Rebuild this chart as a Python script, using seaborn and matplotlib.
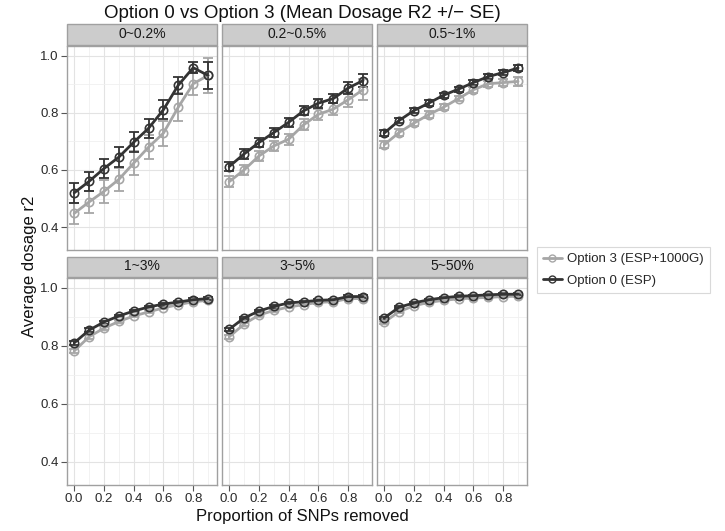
import matplotlib
matplotlib.use("Agg")
import matplotlib.pyplot as plt
from matplotlib.lines import Line2D
from matplotlib.patches import Rectangle
import numpy as np
import pandas as pd
import seaborn as sns

# x positions (proportion of SNPs removed)
x_vals = [0.0, 0.1, 0.2, 0.3, 0.4, 0.5, 0.6, 0.7, 0.8, 0.9]
panels = ["0~0.2%", "0.2~0.5%", "0.5~1%", "1~3%", "3~5%", "5~50%"]
options = ["Option 3 (ESP+1000G)", "Option 0 (ESP)"]

# mean dosage r2, one row per panel
opt0_mean = [
    [0.520, 0.560, 0.605, 0.645, 0.697, 0.746, 0.811, 0.897, 0.958, 0.931],
    [0.612, 0.656, 0.696, 0.731, 0.767, 0.807, 0.834, 0.850, 0.887, 0.913],
    [0.729, 0.773, 0.808, 0.834, 0.862, 0.883, 0.906, 0.927, 0.941, 0.957],
    [0.810, 0.854, 0.882, 0.903, 0.920, 0.934, 0.944, 0.951, 0.959, 0.963],
    [0.857, 0.896, 0.920, 0.936, 0.948, 0.952, 0.957, 0.959, 0.970, 0.970],
    [0.896, 0.933, 0.948, 0.959, 0.966, 0.971, 0.973, 0.976, 0.978, 0.978],
]
opt3_mean = [
    [0.448, 0.488, 0.525, 0.567, 0.624, 0.680, 0.729, 0.820, 0.902, 0.931],
    [0.559, 0.600, 0.649, 0.684, 0.708, 0.758, 0.795, 0.813, 0.846, 0.881],
    [0.688, 0.731, 0.764, 0.794, 0.820, 0.850, 0.881, 0.902, 0.906, 0.910],
    [0.782, 0.831, 0.861, 0.884, 0.903, 0.917, 0.931, 0.942, 0.952, 0.957],
    [0.831, 0.875, 0.906, 0.922, 0.934, 0.942, 0.950, 0.952, 0.963, 0.963],
    [0.881, 0.918, 0.938, 0.950, 0.957, 0.962, 0.965, 0.967, 0.970, 0.971],
]
# standard errors
opt0_se = [
    [0.034, 0.034, 0.034, 0.034, 0.035, 0.034, 0.034, 0.030, 0.020, 0.047],
    [0.017, 0.017, 0.016, 0.016, 0.016, 0.016, 0.016, 0.017, 0.020, 0.024],
    [0.011, 0.010, 0.010, 0.010, 0.009, 0.009, 0.009, 0.009, 0.009, 0.010],
    [0.006, 0.006, 0.005, 0.005, 0.005, 0.005, 0.005, 0.005, 0.005, 0.005],
    [0.006, 0.005, 0.005, 0.004, 0.004, 0.004, 0.004, 0.004, 0.004, 0.004],
    [0.004, 0.004, 0.004, 0.003, 0.003, 0.003, 0.003, 0.003, 0.003, 0.003],
]
opt3_se = [
    [0.038, 0.039, 0.039, 0.040, 0.042, 0.042, 0.044, 0.048, 0.038, 0.060],
    [0.019, 0.019, 0.019, 0.019, 0.019, 0.019, 0.020, 0.022, 0.025, 0.036],
    [0.012, 0.011, 0.011, 0.011, 0.010, 0.010, 0.010, 0.010, 0.011, 0.015],
    [0.007, 0.006, 0.006, 0.005, 0.005, 0.005, 0.005, 0.005, 0.005, 0.005],
    [0.006, 0.005, 0.005, 0.005, 0.004, 0.004, 0.004, 0.004, 0.004, 0.004],
    [0.005, 0.004, 0.004, 0.004, 0.003, 0.003, 0.003, 0.003, 0.003, 0.003],
]

COLORS = {options[0]: "#a6a6a6", options[1]: "#333333"}

rows = []
for i, panel in enumerate(panels):
    for opt, means, ses in [(options[0], opt3_mean, opt3_se), (options[1], opt0_mean, opt0_se)]:
        for x, m, s in zip(x_vals, means[i], ses[i]):
            rows.append({"panel": panel, "option": opt, "x": x, "mean": m, "se": s})
df = pd.DataFrame(rows)

sns.set_theme(style="white")
plt.rcParams["font.family"] = ["Liberation Sans", "DejaVu Sans"]


def draw(data, color=None, label=None, **kws):
    ax = plt.gca()
    sns.lineplot(data=data, x="x", y="mean", color=color, lw=2.0, ax=ax,
                 marker="o", markersize=6, markerfacecolor="none",
                 markeredgecolor=color, markeredgewidth=1.2, errorbar=None,
                 legend=False, zorder=3)
    ax.errorbar(data["x"], data["mean"], yerr=data["se"], fmt="none",
                ecolor=color, elinewidth=1.3, capsize=3.5, capthick=1.3, zorder=2)


g = sns.FacetGrid(df, col="panel", col_wrap=3, col_order=panels,
                  hue="option", hue_order=options, palette=COLORS,
                  height=2.0, aspect=1.0, sharex=True, sharey=True)
g.map_dataframe(draw)

fig = g.figure
fig.set_size_inches(7.25, 5.31)
fig.set_dpi(100)

W, H = 725.0, 531.0
col_left = [67, 222, 377]
panel_w = 150
row_box = [(46, 250), (278, 485)]

for i, ax in enumerate(g.axes.flat):
    r, c = divmod(i, 3)
    top, bot = row_box[r]
    ax.set_position([col_left[c] / W, 1 - bot / H, panel_w / W, (bot - top) / H])
    ax.set_xlim(-0.048, 0.96)
    ax.set_ylim(0.32, 1.034)
    ax.set_xticks([0.0, 0.2, 0.4, 0.6, 0.8])
    ax.set_xticks([0.1, 0.3, 0.5, 0.7, 0.9], minor=True)
    ax.set_yticks([0.4, 0.6, 0.8, 1.0])
    ax.set_yticks([0.5, 0.7, 0.9], minor=True)
    ax.grid(True, which="major", color="#e3e3e3", lw=0.8)
    ax.grid(True, which="minor", color="#f0f0f0", lw=0.6)
    ax.set_axisbelow(True)
    ax.set_title("")
    ax.set_xlabel("")
    ax.set_ylabel("")
    for sp in ax.spines.values():
        sp.set_visible(True)
        sp.set_color("#a0a0a0")
        sp.set_linewidth(1.0)
    ax.tick_params(which="minor", length=0)
    ax.tick_params(axis="both", which="major", length=4, width=0.8,
                   color="#555555", labelsize=9.5, labelcolor="#2a2a2a", pad=2)
    ax.tick_params(axis="x", bottom=(r == 1), labelbottom=(r == 1))
    ax.tick_params(axis="y", left=(c == 0), labelleft=(c == 0))
    ax.set_xticklabels(["0.0", "0.2", "0.4", "0.6", "0.8"])
    ax.set_yticklabels(["0.4", "0.6", "0.8", "1.0"])

    # ggplot-style strip
    strip_h = 20.0 / (bot - top)
    gap = 1.5 / (bot - top)
    ax.add_patch(Rectangle((0, 1 + gap), 1, strip_h, transform=ax.transAxes,
                           facecolor="#cccccc", edgecolor="#a0a0a0", lw=1.0,
                           clip_on=False))
    ax.text(0.5, 1 + gap + strip_h / 2, panels[i], transform=ax.transAxes,
            ha="center", va="center", fontsize=10, color="#1a1a1a")

fig.text(302 / W, 1 - 13 / H, "Option 0 vs Option 3 (Mean Dosage R2 +/\u2212 SE)",
         ha="center", va="center", fontsize=13.5, color="#111111")
fig.text(302 / W, 1 - 516 / H, "Proportion of SNPs removed",
         ha="center", va="center", fontsize=12, color="#111111")
fig.text(30 / W, 1 - 266 / H, "Average dosage r2", rotation=90,
         ha="center", va="center", fontsize=12, color="#111111")

handles = [Line2D([0], [0], color=COLORS[o], lw=2.0, marker="o", markersize=5,
                  markerfacecolor="none", markeredgecolor=COLORS[o]) for o in options]
leg = fig.legend(handles, options, loc="center left",
                 bbox_to_anchor=(530 / W, 1 - 270 / H), frameon=True,
                 fontsize=9.5, handlelength=1.4, handletextpad=0.4,
                 borderpad=0.5, labelspacing=0.7, fancybox=False)
leg.get_frame().set_edgecolor("#d0d0d0")
leg.get_frame().set_linewidth(0.8)

fig.savefig("out.png", dpi=100)
